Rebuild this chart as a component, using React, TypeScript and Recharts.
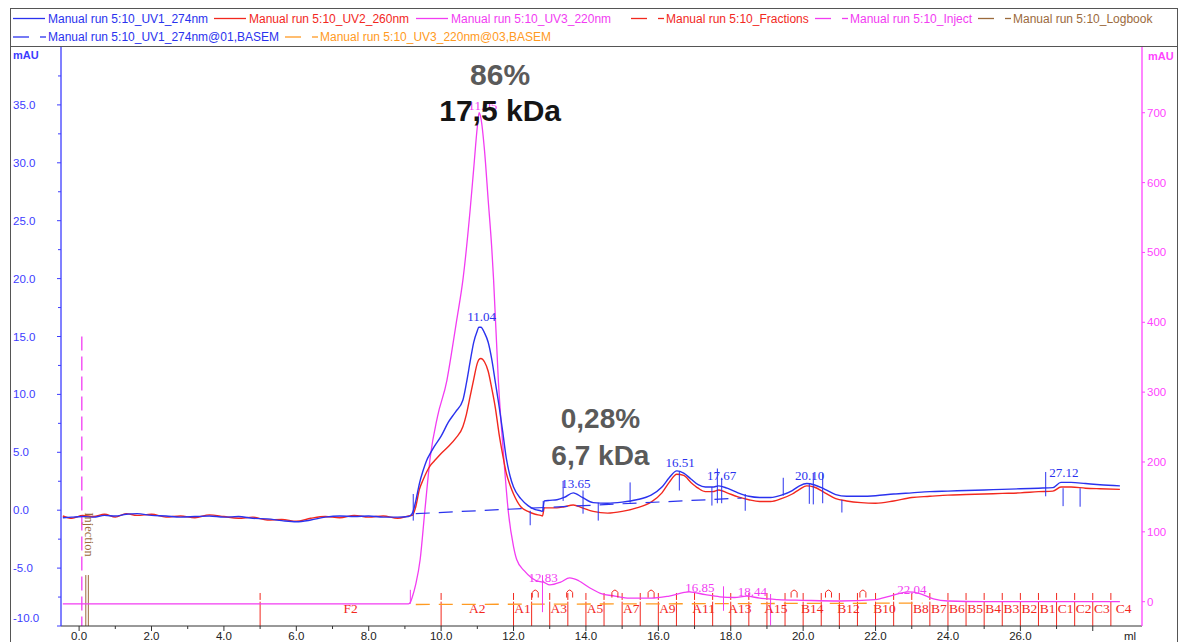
import React from 'react'
import { ComposedChart, Line, XAxis, YAxis, ReferenceLine, ReferenceDot } from 'recharts'

const BLUE = '#2a32ee'
const RED = '#f2281e'
const MAGENTA = '#f23cf2'
const ORANGE = '#ff9a22'
const BROWN = '#9b6a3c'
const AXIS_BLUE = '#3c3cff'
const AXIS_MAGENTA = '#ff44ff'
const SANS = '"Liberation Sans", Arial, sans-serif'
const SERIF = '"Liberation Serif", "Times New Roman", serif'

// UV1 274nm and UV2 260nm, ml vs mAU (left axis)
const uvMl = [
  -0.45, -0.2, 0.1, 0.4, 0.7, 1.0, 1.3, 1.6, 2.0, 2.4, 2.8, 3.2, 3.6, 4.0, 4.4, 4.8, 5.2, 5.6, 6.0, 6.4,
  6.8, 7.2, 7.6, 8.0, 8.4, 8.8, 9.1, 9.2, 9.3,
  9.4, 9.5, 9.6, 9.7, 9.8, 10.0, 10.2, 10.4, 10.6, 10.7,
  10.8, 10.9, 11.0, 11.04, 11.1, 11.2, 11.3, 11.4, 11.5, 11.6,
  11.7, 11.8, 11.9, 12.0, 12.2, 12.4, 12.6, 12.75, 12.8, 12.85,
  13.0, 13.2, 13.4, 13.65, 13.9, 14.2, 14.6, 15.0, 15.4, 15.8,
  16.1, 16.3, 16.51, 16.7, 16.9, 17.1, 17.3, 17.5, 17.67, 17.9,
  18.2, 18.5, 18.8, 19.1, 19.4, 19.7, 19.9, 20.1, 20.3, 20.6,
  20.9, 21.2, 21.6, 22.0, 22.5, 23.0, 23.5, 24.0, 24.5, 25.0,
  25.5, 26.0, 26.5, 26.9, 27.12, 27.4, 27.8, 28.2, 28.75,
]
const uv1Values = [
  -0.65, -0.6, -0.55, -0.6, -0.45, -0.5, -0.35, -0.3, -0.45, -0.5, -0.6, -0.55, -0.5, -0.6, -0.55, -0.7, -0.75, -0.9, -1.0, -0.85,
  -0.6, -0.5, -0.55, -0.5, -0.6, -0.6, -0.55, -0.3, 0.8,
  2.3, 3.4, 4.3, 4.9, 5.45, 6.4, 7.6, 8.5, 9.5, 11.0,
  12.8, 14.5, 15.5, 15.8, 15.8, 15.3, 14.5, 13.0, 11.0, 9.0,
  6.8, 4.5, 3.0, 2.0, 1.0, 0.4, 0.05, -0.05, -0.1, 0.8,
  0.85, 0.9, 1.1, 1.5, 1.1, 0.65, 0.6, 0.7, 0.9, 1.3,
  2.0, 2.8, 3.4, 3.2, 2.7, 2.2, 2.0, 2.0, 2.1, 1.9,
  1.5, 1.2, 1.1, 1.1, 1.3, 1.7, 2.1, 2.3, 2.2, 1.8,
  1.35, 1.2, 1.2, 1.25, 1.4, 1.5, 1.6, 1.65, 1.7, 1.75,
  1.8, 1.85, 1.9, 1.95, 2.4, 2.4, 2.3, 2.2, 2.1,
]
const uv2Values = [
  -0.5, -0.7, -0.45, -0.55, -0.35, -0.6, -0.3, -0.45, -0.35, -0.6, -0.5, -0.65, -0.4, -0.55, -0.7, -0.6, -0.85, -0.8, -0.95, -0.7,
  -0.55, -0.65, -0.45, -0.6, -0.5, -0.7, -0.5, -0.45, 0.3,
  1.8, 2.6, 3.3, 3.85, 4.2, 4.9, 5.5, 6.2, 7.2, 8.3,
  9.8, 11.3, 12.7, 13.0, 13.1, 12.8, 12.0, 10.5, 8.8, 6.6,
  4.8, 3.2, 2.2, 1.4, 0.3, -0.1, -0.35, -0.45, -0.5, 0.2,
  0.2, 0.2, 0.3, 0.45, 0.2, -0.1, -0.25, -0.1, 0.2, 0.7,
  1.5, 2.4, 3.1, 3.0, 2.4, 1.9, 1.6, 1.6, 1.75, 1.5,
  1.15, 0.9, 0.75, 0.75, 1.0, 1.4, 1.8, 2.1, 2.0, 1.5,
  1.0, 0.8, 0.65, 0.6, 0.8, 1.1, 1.2, 1.3, 1.35, 1.4,
  1.45, 1.5, 1.6, 1.65, 2.0, 2.0, 1.9, 1.85, 1.8,
]

// UV3 220nm (right axis)
const uv3Ml = [
  -0.45, 9.1, 9.15, 9.2, 9.3, 9.42, 9.55, 9.7, 9.9, 10.16, 10.3, 10.43, 10.6, 10.8, 10.9, 11.0, 11.05, 11.1, 11.2, 11.3,
  11.4, 11.45, 11.58, 11.72, 11.86, 12.0, 12.09, 12.3, 12.5, 12.7, 12.83, 13.0, 13.3, 13.55, 13.8, 14.1, 14.4, 14.8, 15.2, 15.8,
  16.3, 16.85, 17.3, 17.7, 18.1, 18.44, 18.8, 19.3, 20.0, 21.0, 22.0, 22.4, 22.9, 23.2, 23.6, 24.0, 25.0, 26.0, 27.0, 28.0, 28.75,
]
const uv3Values = [
  -3, -3, -1, 6, 25, 60, 130, 207, 265, 317, 360, 403, 460, 560, 620, 680, 700, 692, 645, 575,
  505, 460, 317, 213, 127, 79, 60, 44, 34, 29, 28, 24, 28, 34, 30, 20, 12, 8, 5, 5,
  8, 14, 10, 7, 6, 8, 5, 3, 2, 1, 3, 8, 14, 12, 4, 1, 0, 0, 0, 0, 0,
]

// automatic baselines
const base1Ml = [9.3, 18.3]
const base1Values = [-0.3, 1.05]
const base3Ml = [9.3, 23.3]
const base3Values = [-4, -2]

const xTicks = [0, 1, 2, 3, 4, 5, 6, 7, 8, 9, 10, 11, 12, 13, 14, 15, 16, 17, 18, 19, 20, 21, 22, 23, 24, 25, 26, 27, 28]
const leftTicks = [-10, -7.5, -5, -2.5, 0, 2.5, 5, 7.5, 10, 12.5, 15, 17.5, 20, 22.5, 25, 27.5, 30, 32.5, 35, 37.5]
const rightTicks = [0, 100, 200, 300, 400, 500, 600, 700]

// fractions
const fractionBounds = [
  5.0, 10.0, 12.0, 12.5, 13.0, 13.5, 14.0, 14.5, 15.0, 15.5, 16.0, 16.5, 17.0, 17.5, 18.0, 18.5, 19.0, 19.5,
  20.0, 20.5, 21.0, 21.5, 22.0, 22.5, 23.0, 23.5, 24.0, 24.5, 25.0, 25.5, 26.0, 26.5, 27.0, 27.5, 28.0, 28.5,
]
const fractionNames = [
  'F2', 'A2', 'A1', 'A3', 'A5', 'A7', 'A9', 'A11', 'A13', 'A15', 'B14', 'B12', 'B10',
  'B8', 'B7', 'B6', 'B5', 'B4', 'B3', 'B2', 'B1', 'C1', 'C2', 'C3', 'C4',
]
const fractionCenters = [
  7.5, 11.0, 12.25, 13.25, 14.25, 15.25, 16.25, 17.25, 18.25, 19.25, 20.25, 21.25, 22.25,
  23.25, 23.75, 24.25, 24.75, 25.25, 25.75, 26.25, 26.75, 27.25, 27.75, 28.25, 28.85,
]
const dropMarks = [12.6, 13.55, 14.8, 15.8, 19.75, 20.7, 21.65]

// peak labels and integration marks
const uv1PeakNames = ['11.04', '13.65', '16.51', '17.67', '20.10', '27.12']
const uv1PeakLabelMl = [11.12, 13.72, 16.6, 17.75, 20.18, 27.2]
const uv1PeakLabelLevel = [16.7, 2.3, 4.1, 3.0, 3.0, 3.25]
const uv1MarkMl = [9.23, 12.46, 12.82, 13.37, 13.92, 14.34, 15.22, 16.58, 17.48, 17.63, 17.75, 18.4, 19.45, 20.17, 20.28, 20.54, 21.07, 26.7, 27.18, 27.65]
const uv1MarkTop = [1.4, -0.05, 0.8, 2.5, 1.7, 0.65, 2.4, 3.3, 2.0, 3.6, 2.8, 1.4, 2.8, 2.3, 3.2, 3.2, 0.9, 3.3, 1.9, 1.9]
const uv1MarkBottom = [-0.9, -1.3, -0.1, 0.8, -0.3, -0.9, 0.65, 1.7, 0.4, 0.6, 0.6, -0.05, 1.25, 0.55, 0.5, 0.6, -0.2, 1.2, 0.35, 0.3]

const uv3PeakNames = ['11.05', '12.83', '16.85', '18.44', '22.04']
const uv3PeakLabelMl = [11.15, 12.82, 17.15, 18.6, 23.0]
const uv3PeakLabelLevel = [710, 35, 20, 14, 17]
const uv3MarkMl = [9.15, 12.8, 17.8, 19.1]
const uv3MarkTop = [17, 38, 22, 11]
const uv3MarkBottom = [-3, -15, -13, -34]

const uvRows = uvMl.map((ml, i) => ({ ml, uv1: uv1Values[i], uv2: uv2Values[i] }))
const uv3Rows = uv3Ml.map((ml, i) => ({ ml, uv3: uv3Values[i] }))
const base1Rows = base1Ml.map((ml, i) => ({ ml, base: base1Values[i] }))
const base3Rows = base3Ml.map((ml, i) => ({ ml, base: base3Values[i] }))

const legendItems = [
  { label: 'Manual run 5:10_UV1_274nm', color: BLUE, dashed: false, x: 13, row: 0 },
  { label: 'Manual run 5:10_UV2_260nm', color: RED, dashed: false, x: 214, row: 0 },
  { label: 'Manual run 5:10_UV3_220nm', color: MAGENTA, dashed: false, x: 416, row: 0 },
  { label: 'Manual run 5:10_Fractions', color: RED, dashed: true, x: 631, row: 0 },
  { label: 'Manual run 5:10_Inject', color: MAGENTA, dashed: true, x: 815, row: 0 },
  { label: 'Manual run 5:10_Logbook', color: BROWN, dashed: true, x: 978, row: 0 },
  { label: 'Manual run 5:10_UV1_274nm@01,BASEM', color: BLUE, dashed: true, x: 13, row: 1 },
  { label: 'Manual run 5:10_UV3_220nm@03,BASEM', color: ORANGE, dashed: true, x: 285, row: 1 },
]

function XTick(props: any) {
  const { x, y, payload } = props
  const v = payload.value
  const major = v % 2 === 0
  return (
    <g>
      <line x1={x} x2={x} y1={y} y2={y + (major ? 5 : 3)} stroke="#333" />
      {major && v <= 26 && (
        <text x={x} y={y + 10} textAnchor="middle" dominantBaseline="central" fontSize={11.5} fontFamily={SANS} fill="#222">
          {v.toFixed(1)}
        </text>
      )}
    </g>
  )
}

function LeftTick(props: any) {
  const { x, y, payload } = props
  const v = payload.value
  const major = Math.abs(v % 5) < 0.01
  return (
    <g>
      <line x1={x - (major ? 4 : 3)} x2={x} y1={y} y2={y} stroke={AXIS_BLUE} />
      {major && (
        <text x={13} y={v === -10 ? y - 8 : y} dominantBaseline="central" fontSize={11.5} fontFamily={SANS} fill={AXIS_BLUE}>
          {v.toFixed(1)}
        </text>
      )}
    </g>
  )
}

function RightTick(props: any) {
  const { x, y, payload } = props
  return (
    <g>
      <line x1={x} x2={x + 3} y1={y} y2={y} stroke={AXIS_MAGENTA} />
      <text x={x + 5} y={y} dominantBaseline="central" fontSize={11.5} fontFamily={SANS} fill={AXIS_MAGENTA}>
        {payload.value}
      </text>
    </g>
  )
}

const textShape = (content: string, attrs: any) => (p: any) => (
  <text x={p.cx} y={p.cy} dominantBaseline="central" textAnchor="middle" {...attrs}>
    {content}
  </text>
)

function Legend() {
  return (
    <svg width={1182} height={46} style={{ position: 'absolute', left: 0, top: 0 }}>
      {legendItems.map((it) => {
        const y = it.row === 0 ? 18.5 : 37
        return (
          <g key={it.label}>
            {it.dashed ? (
              <>
                <line x1={it.x} x2={it.x + 16} y1={y} y2={y} stroke={it.color} strokeWidth={1.3} />
                <line x1={it.x + 27} x2={it.x + 33} y1={y} y2={y} stroke={it.color} strokeWidth={1.3} />
              </>
            ) : (
              <line x1={it.x} x2={it.x + 32} y1={y} y2={y} stroke={it.color} strokeWidth={1.3} />
            )}
            <text x={it.x + 35} y={y} dominantBaseline="central" fontSize={12} fontFamily={SANS} fill={it.color}>
              {it.label}
            </text>
          </g>
        )
      })}
    </svg>
  )
}

export default function App() {
  return (
    <div style={{ position: 'absolute', left: 0, top: 0, width: 1182, height: 642, background: '#fff', overflow: 'hidden' }}>
      <ComposedChart width={1182} height={642} margin={{ top: 47, right: 0, bottom: 0, left: 13 }}>
        <XAxis
          type="number"
          dataKey="ml"
          domain={[-0.5, 29.36]}
          allowDataOverflow
          ticks={xTicks}
          interval={0}
          tick={(p: any) => <XTick {...p} />}
          tickLine={false}
          tickSize={0}
          tickMargin={0}
          height={16}
          axisLine={{ stroke: '#333' }}
        />
        <YAxis
          yAxisId="left"
          type="number"
          domain={[-10, 40]}
          allowDataOverflow
          ticks={leftTicks}
          interval={0}
          tick={(p: any) => <LeftTick {...p} />}
          tickLine={false}
          tickSize={0}
          tickMargin={0}
          width={48}
          axisLine={{ stroke: AXIS_BLUE, strokeWidth: 1.3 }}
        />
        <YAxis
          yAxisId="right"
          orientation="right"
          type="number"
          domain={[-34.8, 794.1]}
          allowDataOverflow
          ticks={rightTicks}
          interval={0}
          tick={(p: any) => <RightTick {...p} />}
          tickLine={false}
          tickSize={0}
          tickMargin={0}
          width={40}
          axisLine={{ stroke: AXIS_MAGENTA, strokeWidth: 1.3 }}
        />

        {/* fractions */}
        {fractionBounds.map((ml) => (
          <ReferenceLine key={'fl' + ml} yAxisId="left" segment={[{ x: ml, y: -7.9 }, { x: ml, y: -10 }]} stroke={RED} />
        ))}
        {fractionBounds.map((ml) => (
          <ReferenceLine key={'fd' + ml} yAxisId="left" segment={[{ x: ml, y: -7.15 }, { x: ml, y: -7.75 }]} stroke={RED} />
        ))}
        {dropMarks.map((ml) => (
          <ReferenceDot
            key={'dm' + ml}
            yAxisId="left"
            x={ml}
            y={-7.2}
            r={0}
            shape={(p: any) => (
              <path d={`M ${p.cx - 3} ${p.cy + 4} L ${p.cx - 3} ${p.cy - 1} Q ${p.cx} ${p.cy - 6} ${p.cx + 3} ${p.cy - 1} L ${p.cx + 3} ${p.cy + 4}`} fill="none" stroke={RED} />
            )}
          />
        ))}
        {fractionNames.map((name, i) => (
          <ReferenceDot
            key={'fn' + name}
            yAxisId="left"
            x={fractionCenters[i]}
            y={-8.45}
            r={0}
            shape={textShape(name, { fontSize: 13.5, fontFamily: SERIF, fill: RED })}
          />
        ))}

        {/* injection and logbook */}
        <ReferenceLine yAxisId="left" segment={[{ x: 0.075, y: 15 }, { x: 0.075, y: -10 }]} stroke={MAGENTA} strokeWidth={1.3} strokeDasharray="14 6" />
        <ReferenceLine yAxisId="left" segment={[{ x: 0.185, y: -5.6 }, { x: 0.185, y: -10 }]} stroke={BROWN} />
        <ReferenceLine yAxisId="left" segment={[{ x: 0.255, y: -5.6 }, { x: 0.255, y: -10 }]} stroke={BROWN} />
        <ReferenceDot
          yAxisId="left"
          x={0.26}
          y={-2.1}
          r={0}
          shape={(p: any) => (
            <text x={p.cx} y={p.cy} transform={`rotate(90 ${p.cx} ${p.cy})`} textAnchor="middle" dominantBaseline="central" fontSize={12.5} fontFamily={SERIF} fill={BROWN}>
              Injection
            </text>
          )}
        />

        {/* curves */}
        <Line data={base3Rows} dataKey="base" yAxisId="right" stroke={ORANGE} strokeWidth={1.3} strokeDasharray="14 9" dot={false} isAnimationActive={false} type="linear" />
        <Line data={uv3Rows} dataKey="uv3" yAxisId="right" stroke={MAGENTA} strokeWidth={1.3} dot={false} isAnimationActive={false} type="monotone" />
        <Line data={uvRows} dataKey="uv2" yAxisId="left" stroke={RED} strokeWidth={1.4} dot={false} isAnimationActive={false} type="monotone" />
        <Line data={uvRows} dataKey="uv1" yAxisId="left" stroke={BLUE} strokeWidth={1.4} dot={false} isAnimationActive={false} type="monotone" />
        <Line data={base1Rows} dataKey="base" yAxisId="left" stroke={BLUE} strokeWidth={1.2} strokeDasharray="14 9" dot={false} isAnimationActive={false} type="linear" />

        {/* peak marks */}
        {uv1MarkMl.map((ml, i) => (
          <ReferenceLine key={'m1' + i} yAxisId="left" segment={[{ x: ml, y: uv1MarkTop[i] }, { x: ml, y: uv1MarkBottom[i] }]} stroke={BLUE} />
        ))}
        {uv3MarkMl.map((ml, i) => (
          <ReferenceLine key={'m3' + i} yAxisId="right" segment={[{ x: ml, y: uv3MarkTop[i] }, { x: ml, y: uv3MarkBottom[i] }]} stroke={MAGENTA} />
        ))}
        {uv1PeakNames.map((name, i) => (
          <ReferenceDot
            key={'p1' + name}
            yAxisId="left"
            x={uv1PeakLabelMl[i]}
            y={uv1PeakLabelLevel[i]}
            r={0}
            shape={textShape(name, { fontSize: 13, fontFamily: SERIF, fill: BLUE })}
          />
        ))}
        {uv3PeakNames.map((name, i) => (
          <ReferenceDot
            key={'p3' + name}
            yAxisId="right"
            x={uv3PeakLabelMl[i]}
            y={uv3PeakLabelLevel[i]}
            r={0}
            shape={textShape(name, { fontSize: 13, fontFamily: SERIF, fill: MAGENTA })}
          />
        ))}

        {/* annotations */}
        <ReferenceDot yAxisId="left" x={11.63} y={37.6} r={0} shape={textShape('86%', { fontSize: 30, fontWeight: 'bold', fontFamily: SANS, fill: '#5a5a5a' })} />
        <ReferenceDot yAxisId="left" x={11.63} y={34.5} r={0} shape={textShape('17,5 kDa', { fontSize: 30, fontWeight: 'bold', fontFamily: SANS, fill: '#151515' })} />
        <ReferenceDot yAxisId="left" x={14.4} y={7.9} r={0} shape={textShape('0,28%', { fontSize: 28, fontWeight: 'bold', fontFamily: SANS, fill: '#5a5a5a' })} />
        <ReferenceDot yAxisId="left" x={14.4} y={4.7} r={0} shape={textShape('6,7 kDa', { fontSize: 28, fontWeight: 'bold', fontFamily: SANS, fill: '#5a5a5a' })} />
      </ComposedChart>

      <svg width={1182} height={642} style={{ position: 'absolute', left: 0, top: 0, pointerEvents: 'none' }}>
        <rect x={10.5} y={8.5} width={1167} height={640} fill="none" stroke="#555" />
        <line x1={10} x2={1178} y1={46.5} y2={46.5} stroke="#555" />
        <text x={13} y={55} dominantBaseline="central" fontSize={11} fontWeight="bold" fontFamily={SANS} fill={AXIS_BLUE}>mAU</text>
        <text x={1148} y={56} dominantBaseline="central" fontSize={11} fontWeight="bold" fontFamily={SANS} fill={AXIS_MAGENTA}>mAU</text>
        <text x={1124} y={636} dominantBaseline="central" fontSize={11.5} fontFamily={SANS} fill="#222">ml</text>
      </svg>
      <Legend />
    </div>
  )
}
